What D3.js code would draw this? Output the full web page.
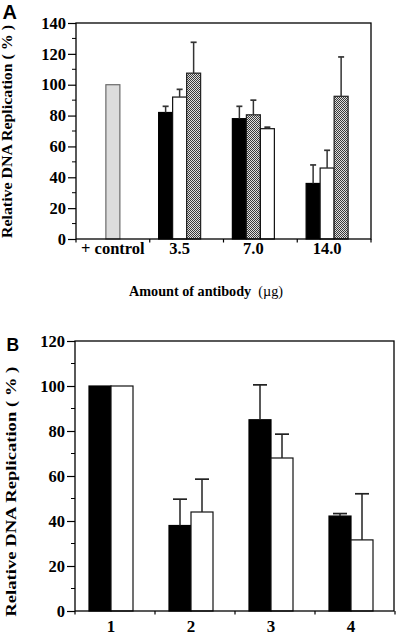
<!DOCTYPE html>
<html><head><meta charset="utf-8">
<script src="https://cdn.jsdelivr.net/npm/d3@7"></script>
<style>
html,body{margin:0;padding:0;background:#fff;}
svg{display:block;}
</style></head>
<body>
<script>
// ---------- Panel A data ----------
const groupsA = ["+ control", "3.5", "7.0", "14.0"];
const controlA = [100, null, null, null];
const blackA = [null, 82, 78, 36];
const blackErrA = [null, 4, 8, 12];
const whiteA = [null, 92, 71.5, 46];
const whiteErrA = [null, 5, 1, 11.5];
const hatchA = [null, 107.5, 80.5, 92.5];
const hatchErrA = [null, 20, 9.5, 25.5];
// order of the three bars inside each antibody group
const orderA = [["control"], ["black", "white", "hatch"], ["black", "hatch", "white"], ["black", "white", "hatch"]];
const yTicksA = [0, 20, 40, 60, 80, 100, 120, 140];

// ---------- Panel B data ----------
const groupsB = ["1", "2", "3", "4"];
const blackB = [100, 38, 85, 42.2];
const blackErrB = [0, 11.7, 15.5, 1.1];
const whiteB = [100, 44, 68, 31.6];
const whiteErrB = [0, 14.6, 10.6, 20.5];
const yTicksB = [0, 20, 40, 60, 80, 100, 120];

const W = 400, H = 637;
const serif = "'Liberation Serif','Times New Roman',serif";
const sans = "'Liberation Sans',Arial,sans-serif";

const svg = d3.select("body").append("svg").attr("width", W).attr("height", H);
svg.append("rect").attr("width", W).attr("height", H).attr("fill", "#fff");

const defs = svg.append("defs");
const pat = defs.append("pattern").attr("id", "hatch").attr("patternUnits", "userSpaceOnUse")
  .attr("width", 2).attr("height", 2);
pat.append("rect").attr("width", 2).attr("height", 2).attr("fill", "#e0e0e0");
pat.append("rect").attr("width", 1).attr("height", 1).attr("fill", "#3a3a3a");
pat.append("rect").attr("x", 1).attr("y", 1).attr("width", 1).attr("height", 1).attr("fill", "#3a3a3a");

function drawYAxis(g, y, ticks, x0) {
  const ax = d3.axisLeft(y).tickValues(ticks).tickSize(8).tickPadding(2).tickFormat(d3.format("d"));
  const ga = g.append("g").attr("transform", `translate(${x0},0)`).call(ax)
    .attr("font-family", serif).attr("font-size", 16.5);
  ga.select(".domain").remove();
  ga.selectAll("line").attr("stroke", "#000").attr("stroke-width", 1.2);
  ga.selectAll("text").style("font-family", serif).attr("font-weight", "bold")
    .attr("font-size", 16.5).attr("fill", "#000");
  // minor ticks
  const minor = d3.range(ticks[0] + 10, ticks[ticks.length - 1], 20);
  g.append("g").selectAll("line").data(minor).join("line")
    .attr("x1", x0 - 4).attr("x2", x0).attr("y1", d => y(d)).attr("y2", d => y(d))
    .attr("stroke", "#000").attr("stroke-width", 1);
}

function errBar(g, cx, yTop, yErr, cap, color) {
  g.append("line").attr("x1", cx).attr("x2", cx).attr("y1", yTop).attr("y2", yErr)
    .attr("stroke", color).attr("stroke-width", 1.5);
  g.append("line").attr("x1", cx - cap / 2).attr("x2", cx + cap / 2).attr("y1", yErr).attr("y2", yErr)
    .attr("stroke", color).attr("stroke-width", 1.7);
}

// ================= Panel A =================
{
  const g = svg.append("g");
  const x = d3.scaleBand().domain(groupsA).range([76, 371]);
  const y = d3.scaleLinear().domain([0, 140]).range([239, 23]);
  const bw = 14;
  const series = {
    control: { v: controlA, e: null, fill: "#dcdcdc", stroke: "#6a6a6a" },
    black: { v: blackA, e: blackErrA, fill: "#000", stroke: "#000" },
    white: { v: whiteA, e: whiteErrA, fill: "#fff", stroke: "#111" },
    hatch: { v: hatchA, e: hatchErrA, fill: "url(#hatch)", stroke: "#222" }
  };
  const labelX = [];
  groupsA.forEach((grp, i) => {
    const c = x(grp) + x.bandwidth() / 2;
    const ord = orderA[i];
    const start = ord.length === 1 ? c - bw / 2 : c - 2 * bw;
    labelX.push(start + ord.length * bw / 2);
    ord.forEach((k, j) => {
      const s = series[k];
      const v = s.v[i];
      const bx = start + j * bw;
      g.append("rect").attr("x", bx).attr("y", y(v)).attr("width", bw).attr("height", y(0) - y(v))
        .attr("fill", s.fill).attr("stroke", s.stroke).attr("stroke-width", 1.2);
      if (s.e && s.e[i]) errBar(g, bx + bw / 2, y(v), y(v + s.e[i]), 6, "#333");
    });
  });
  // frame
  g.append("rect").attr("x", 76).attr("y", y(140)).attr("width", 371 - 76).attr("height", y(0) - y(140))
    .attr("fill", "none").attr("stroke", "#000").attr("stroke-width", 1.3);
  drawYAxis(g, y, yTicksA, 76);
  // x ticks at band edges
  const edges = groupsA.map(d => x(d)).concat([x.range()[1]]);
  g.append("g").selectAll("line").data(edges).join("line")
    .attr("x1", d => d).attr("x2", d => d).attr("y1", y(0)).attr("y2", y(0) + 3.5)
    .attr("stroke", "#000").attr("stroke-width", 1.2);
  g.append("g").selectAll("text").data(groupsA).join("text")
    .attr("x", (d, i) => labelX[i]).attr("y", 253.5).attr("text-anchor", "middle")
    .attr("font-family", serif).attr("font-weight", "bold").attr("font-size", 16.5).text(d => d);
  const t = g.append("text").attr("x", 206).attr("y", 296).attr("text-anchor", "middle")
    .attr("font-family", serif).attr("font-size", 14.2);
  t.append("tspan").attr("font-weight", "bold").text("Amount of antibody");
  t.append("tspan").attr("font-weight", "normal").text("\u00a0\u00a0(\u00b5g)");
  g.append("text").attr("transform", "translate(12,131.5) rotate(-90)").attr("text-anchor", "middle")
    .attr("font-family", serif).attr("font-weight", "bold").attr("font-size", 14)
    .attr("textLength", 213).attr("lengthAdjust", "spacingAndGlyphs")
    .text("Relative DNA Replication ( % )");
  g.append("text").attr("x", 2.5).attr("y", 19).attr("font-family", sans).attr("font-weight", "bold")
    .attr("font-size", 20).text("A");
}

// ================= Panel B =================
{
  const g = svg.append("g");
  const x = d3.scaleBand().domain(groupsB).range([75, 395]);
  const y = d3.scaleLinear().domain([0, 120]).range([611, 341]);
  const bw = 22, shift = -4;
  groupsB.forEach((grp, i) => {
    const c = x(grp) + x.bandwidth() / 2 + shift;
    const bx1 = c - bw, bx2 = c;
    g.append("rect").attr("x", bx1).attr("y", y(blackB[i])).attr("width", bw).attr("height", y(0) - y(blackB[i]))
      .attr("fill", "#000").attr("stroke", "#000").attr("stroke-width", 1.2);
    g.append("rect").attr("x", bx2).attr("y", y(whiteB[i])).attr("width", bw).attr("height", y(0) - y(whiteB[i]))
      .attr("fill", "#fff").attr("stroke", "#111").attr("stroke-width", 1.2);
    if (blackErrB[i]) errBar(g, bx1 + bw / 2, y(blackB[i]), y(blackB[i] + blackErrB[i]), 14, "#222");
    if (whiteErrB[i]) errBar(g, bx2 + bw / 2, y(whiteB[i]), y(whiteB[i] + whiteErrB[i]), 14, "#222");
  });
  g.append("rect").attr("x", 75).attr("y", y(120)).attr("width", 394 - 75).attr("height", y(0) - y(120))
    .attr("fill", "none").attr("stroke", "#000").attr("stroke-width", 1.3);
  drawYAxis(g, y, yTicksB, 75);
  const edges = groupsB.map(d => x(d)).concat([x.range()[1]]);
  g.append("g").selectAll("line").data(edges).join("line")
    .attr("x1", d => d).attr("x2", d => d).attr("y1", y(0)).attr("y2", y(0) + 3.5)
    .attr("stroke", "#000").attr("stroke-width", 1.2);
  g.append("g").selectAll("text").data(groupsB).join("text")
    .attr("x", d => x(d) + x.bandwidth() / 2 + shift).attr("y", 631.5).attr("text-anchor", "middle")
    .attr("font-family", serif).attr("font-weight", "bold").attr("font-size", 17).text(d => d);
  g.append("text").attr("transform", "translate(16.3,491.7) rotate(-90)").attr("text-anchor", "middle")
    .attr("font-family", serif).attr("font-weight", "bold").attr("font-size", 14.5)
    .attr("textLength", 250).attr("lengthAdjust", "spacingAndGlyphs")
    .text("Relative DNA Replication ( % )");
  g.append("text").attr("x", 6.5).attr("y", 350.5).attr("font-family", sans).attr("font-weight", "bold")
    .attr("font-size", 17.5).text("B");
}
</script>
</body></html>
